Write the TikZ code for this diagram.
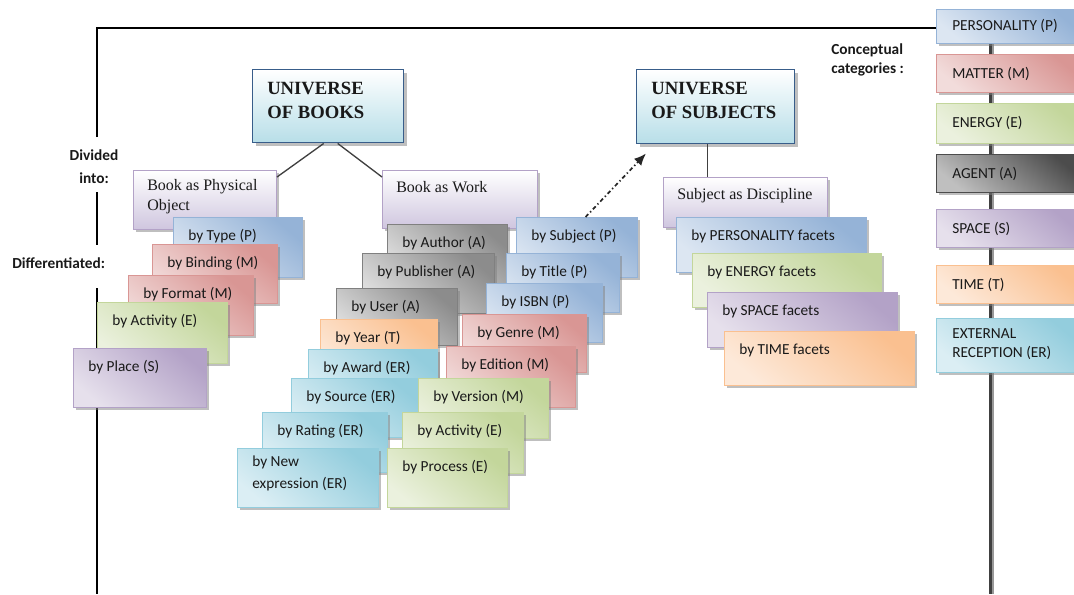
\documentclass[tikz,border=0pt]{standalone}
\usepackage{fontspec}
\setmainfont{Liberation Serif}
\newfontfamily\carl{Carlito}
\usetikzlibrary{shadows,arrows.meta,backgrounds}
\definecolor{Pd}{HTML}{95B3D7}\definecolor{Pl}{HTML}{DCE6F2}
\definecolor{Md}{HTML}{D99694}\definecolor{Ml}{HTML}{F2DCDB}
\definecolor{Ed}{HTML}{C3D69B}\definecolor{El}{HTML}{EBF1DE}
\definecolor{Sd}{HTML}{B3A2C7}\definecolor{Sl}{HTML}{E6E0EC}
\definecolor{Rd}{HTML}{93CDDD}\definecolor{Rl}{HTML}{DBEEF4}
\definecolor{Td}{HTML}{FAC090}\definecolor{Tl}{HTML}{FDE9D9}
\definecolor{Ad}{HTML}{8C8C8C}\definecolor{Al}{HTML}{E0E0E0}
\definecolor{UB}{HTML}{385D8A}\definecolor{Ub}{HTML}{B7DEE8}
\definecolor{Kb}{HTML}{CFC6DF}
\tikzset{
  shd/.style={drop shadow={shadow xshift=2.2pt,shadow yshift=-2.2pt,fill=black!50,opacity=0.5}},
  cbox/.style 2 args={shd, draw=#1, line width=0.75pt, top color=#1, bottom color=#2, shading angle=-40},
  pbox/.style={cbox={Pd}{Pl}},
  mbox/.style={cbox={Md}{Ml}},
  ebox/.style={cbox={Ed}{El}},
  sbox/.style={cbox={Sd}{Sl}},
  rbox/.style={cbox={Rd}{Rl}},
  tbox/.style={cbox={Td}{Tl}},
  abox/.style={cbox={Ad}{Al}, draw=black!50},
  ubox/.style={shd, draw=UB, line width=1.1pt, top color=white, bottom color=Ub},
  kbox/.style={shd, draw=Sd, line width=0.75pt, top color=white, bottom color=Kb},
  lbl/.style={anchor=north west, inner sep=0pt, align=left, text=black!90, execute at begin node=\strut},
  st/.style={lbl, font=\carl\fontsize{11.5}{16.5}\selectfont, xshift=11.25pt, yshift=-5.5pt},
  ct/.style={lbl, font=\carl\fontsize{11.5}{14.25}\selectfont, xshift=12pt, yshift=-8pt},
  sr/.style={lbl, font=\fontsize{12}{15}\selectfont, xshift=10.5pt, yshift=-6.5pt},
  ut/.style={lbl, font=\bfseries\fontsize{14}{18}\selectfont, xshift=11.25pt, yshift=-9.6pt},
  blab/.style={inner sep=0pt, text=black!90, font=\carl\bfseries\fontsize{11.5}{17.25}\selectfont},
  frame/.style={draw=black, line width=1pt},
  conn/.style={draw=black!75, line width=1pt},
  darr/.style={draw=black!85, line width=1.3pt, dash pattern=on 3pt off 2pt on 1pt off 2pt, -{Latex[length=9pt,width=7.5pt]}},
}
\newcommand\bx[8]{%
  \node[#2, anchor=north west, inner sep=0pt, minimum width={(#5-#3)*0.75pt}, minimum height={(#6-#4)*0.75pt}] (#1) at (#3,#4) {};
  \node[#7] (#1-t) at (#1.north west) {#8};}
\begin{document}
\begin{tikzpicture}[x=0.75pt,y=-0.75pt]
\useasboundingbox (0,0) rectangle (1074,594);
% universes and "book as" boxes
\bx{uob}{ubox}{252}{69}{403}{142}{ut}{UNIVERSE\\\strut OF BOOKS}
\bx{uos}{ubox}{636}{69}{794}{143}{ut}{UNIVERSE\\\strut OF SUBJECTS}
\bx{bphys}{kbox}{133}{170}{276}{229}{sr}{Book as Physical\\\strut Object}
\bx{bwork}{kbox}{382}{170}{537}{228}{sr}{Book as Work}
\bx{sdisc}{kbox}{663}{177}{827}{227}{sr}{Subject as Discipline}
% left column
\bx{ltype}{pbox}{173}{217}{302}{277}{st}{by Type (P)}
\bx{lbind}{mbox}{152}{244}{277}{303}{st}{by Binding (M)}
\bx{lform}{mbox}{128}{275}{253}{335}{st}{by Format (M)}
\bx{lact}{ebox}{97}{302}{227}{363}{st}{by Activity (E)}
\bx{lplace}{sbox}{73}{348}{206}{407}{st}{by Place (S)}
% middle left column
\bx{author}{abox}{387}{224}{507}{284}{st}{by Author (A)}
\bx{publisher}{abox}{362}{253}{494}{313}{st}{by Publisher (A)}
\bx{user}{abox}{336}{288}{457}{345}{st}{by User (A)}
\bx{year}{tbox}{320}{319}{437}{378}{st}{by Year (T)}
\bx{award}{rbox}{308}{349}{437}{408}{st}{by Award (ER)}
\bx{source}{rbox}{291}{378}{419}{437}{st}{by Source (ER)}
\bx{rating}{rbox}{262}{412}{387}{472}{st}{by Rating (ER)}
\bx{newexp}{rbox}{237}{448}{378}{507}{st}{by New\\\strut expression (ER)}
% middle right column
\bx{subject}{pbox}{516}{217}{637}{277}{st}{by Subject (P)}
\bx{title}{pbox}{506}{253}{619}{312}{st}{by Title (P)}
\bx{isbn}{pbox}{486}{283}{602}{342}{st}{by ISBN (P)}
\bx{genre}{mbox}{462}{314}{586}{372}{st}{by Genre (M)}
\bx{edition}{mbox}{446}{346}{575}{407}{st}{by Edition (M)}
\bx{version}{ebox}{418}{378}{548}{438}{st}{by Version (M)}
\bx{activity}{ebox}{402}{412}{523}{473}{st}{by Activity (E)}
\bx{process}{ebox}{387}{448}{507}{507}{st}{by Process (E)}
% facets
\bx{fpers}{pbox}{676}{217}{866}{272}{st}{by PERSONALITY facets}
\bx{fener}{ebox}{692}{253}{881}{307}{st}{by ENERGY facets}
\bx{fspace}{sbox}{707}{292}{897}{347}{st}{by SPACE facets}
\bx{ftime}{tbox}{724}{331}{914}{385}{st}{by TIME facets}
% categories
\bx{cP}{pbox}{936}{9}{1080}{43}{ct,yshift=2.2pt}{PERSONALITY (P)}
\bx{cM}{mbox}{936}{54}{1080}{92}{ct}{MATTER (M)}
\bx{cE}{ebox}{936}{103}{1080}{143}{ct}{ENERGY (E)}
\bx{cA}{cbox={black!70}{black!25}}{936}{154}{1080}{192}{ct}{AGENT (A)}
\bx{cS}{sbox}{936}{209}{1080}{247}{ct}{SPACE (S)}
\bx{cT}{tbox}{936}{265}{1080}{303}{ct}{TIME (T)}
\bx{cER}{rbox}{936}{318}{1080}{372}{ct}{EXTERNAL\\\strut RECEPTION (ER)}
% labels
\node[blab, align=center, anchor=north] (divided) at (94,143.9) {\strut Divided\\\strut into:};
\node[blab, anchor=north west] (diff) at (12,251.9) {\strut Differentiated:};
\node[blab, align=left, anchor=north west, font=\carl\bfseries\fontsize{11.5}{14.25}\selectfont] (concept) at (831,40.7) {\strut Conceptual\\\strut categories :};
% frame lines (behind)
\begin{pgfonlayer}{background}
\coordinate (tl) at (97,28);
\coordinate (l1) at (97,137);
\coordinate (l2) at (97,192);
\coordinate (l3) at (97,245);
\coordinate (l4) at (97,288);
\coordinate (lb) at (97,594);
\coordinate (rt) at (990.5,9);
\coordinate (rb) at (990.5,594);
\coordinate (rt2) at (993.3,9);
\coordinate (rb2) at (993.3,594);
\draw[frame] (l1) -- (tl) -- (cP.west |- tl);
\draw[frame] (l2) -- (l3);
\draw[frame] (l4) -- (lb);
\draw[draw=black!75, line width=2.2pt] (rt) -- (rb);
\draw[draw=black!40, line width=1.4pt] (rt2) -- (rb2);
\end{pgfonlayer}
% connectors
\draw[conn] ([xshift=-3.4pt]uob.south) -- ([yshift=-5.25pt]bphys.north east);
\draw[conn] ([xshift=7.1pt]uob.south) -- ([yshift=-5.25pt]bwork.north west);
\draw[conn] ([xshift=-6pt]uos.south) -- ([xshift=-6pt]uos.south |- sdisc.north);
\draw[darr] ([xshift=6.4pt]subject.north) -- ([shift={(10,9)}]uos.south west);
\end{tikzpicture}
\end{document}
